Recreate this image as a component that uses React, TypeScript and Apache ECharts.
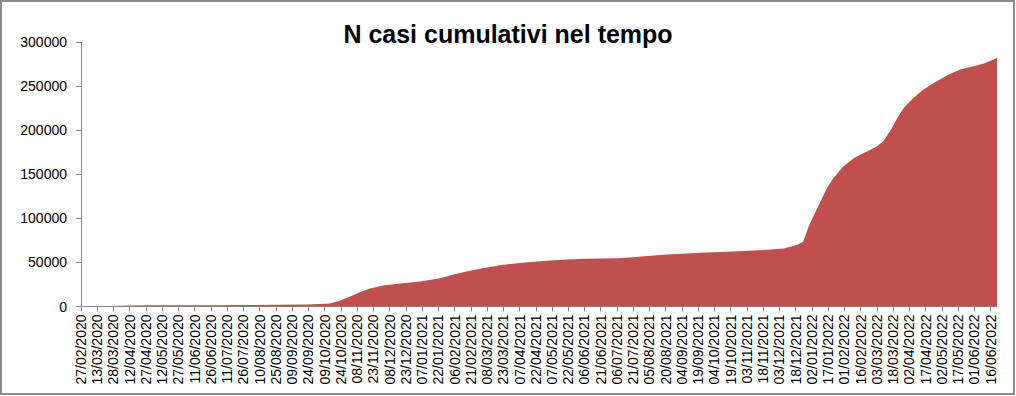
import React, { useEffect, useRef } from "react";
import * as echarts from "echarts";

// Days elapsed since 27/02/2020 (first category of the chart)
const dayOffsets = [
  0, 15, 30, 45, 60, 90, 120, 150, 180, 210, 225, 230, 239, 248, 258, 267, 279,
  295, 313, 332, 344, 357, 371, 387, 403, 418, 433, 449, 464, 480, 495, 510,
  526, 541, 572, 602, 634, 649, 655, 661, 667, 672, 677, 683, 689, 695, 704,
  714, 723, 735, 741, 748, 754, 760, 769, 778, 788, 800, 812, 825, 834, 845,
  846,
];

// Cumulative number of cases
const cumulativeCases = [
  0, 100, 700, 1200, 1400, 1500, 1550, 1650, 1900, 2300, 3000, 3500, 6500,
  11000, 16500, 20500, 23800, 26000, 28400, 32000, 36200, 40000, 43400, 46800,
  49100, 50700, 52200, 53300, 54100, 54500, 54800, 56000, 57600, 59100, 61000,
  62500, 64400, 65900, 67800, 69800, 73500, 90600, 103900, 119000, 134300,
  145700, 158900, 168400, 174100, 181600, 187300, 200600, 213900, 225300,
  236700, 246100, 253800, 262400, 268900, 272700, 275700, 281400, 282300,
];

// Category labels shown every 15 days
const tickLabels = [
  "27/02/2020", "13/03/2020", "28/03/2020", "12/04/2020", "27/04/2020",
  "12/05/2020", "27/05/2020", "11/06/2020", "26/06/2020", "11/07/2020",
  "26/07/2020", "10/08/2020", "25/08/2020", "09/09/2020", "24/09/2020",
  "09/10/2020", "24/10/2020", "08/11/2020", "23/11/2020", "08/12/2020",
  "23/12/2020", "07/01/2021", "22/01/2021", "06/02/2021", "21/02/2021",
  "08/03/2021", "23/03/2021", "07/04/2021", "22/04/2021", "07/05/2021",
  "22/05/2021", "06/06/2021", "21/06/2021", "06/07/2021", "21/07/2021",
  "05/08/2021", "20/08/2021", "04/09/2021", "19/09/2021", "04/10/2021",
  "19/10/2021", "03/11/2021", "18/11/2021", "03/12/2021", "18/12/2021",
  "02/01/2022", "17/01/2022", "01/02/2022", "16/02/2022", "03/03/2022",
  "18/03/2022", "02/04/2022", "17/04/2022", "02/05/2022", "17/05/2022",
  "01/06/2022", "16/06/2022",
];

const lastDay = 846;
const labelStep = 15;

export default function App() {
  const ref = useRef<HTMLDivElement>(null);

  useEffect(() => {
    document.body.style.margin = "0";
    if (!ref.current) return;
    const chart = echarts.init(ref.current, undefined, { renderer: "svg" });
    const tickValues = tickLabels.map((_, i) => i * labelStep);
    const font = "'Liberation Sans', Arial, sans-serif";
    const axisGray = "#8a8a8a";

    chart.setOption({
      animation: false,
      backgroundColor: "#ffffff",
      title: {
        text: "N casi cumulativi nel tempo",
        left: "center",
        top: 16,
        textStyle: {
          fontFamily: font,
          fontSize: 25,
          fontWeight: "bold",
          color: "#000000",
        },
      },
      graphic: [
        {
          type: "rect",
          shape: { x: 1, y: 1, width: 1013, height: 393 },
          style: { fill: "none", stroke: "#8c8c8c", lineWidth: 2 },
          silent: true,
        },
      ],
      grid: { left: 81, right: 19, top: 42, bottom: 89.5 },
      xAxis: {
        type: "value",
        min: 0,
        max: lastDay,
        interval: labelStep,
        splitLine: { show: false },
        axisLine: { show: true, lineStyle: { color: axisGray, width: 1 } },
        axisTick: {
          show: true,
          length: 5,
          lineStyle: { color: axisGray },
          customValues: tickValues,
        },
        axisLabel: {
          rotate: 90,
          margin: 8,
          fontFamily: font,
          fontSize: 14,
          color: "#000000",
          customValues: tickValues,
          formatter: (v: number) =>
            v % labelStep === 0 ? tickLabels[v / labelStep] ?? "" : "",
        },
      },
      yAxis: {
        type: "value",
        min: 0,
        max: 300000,
        interval: 50000,
        splitLine: { show: false },
        axisLine: { show: true, lineStyle: { color: axisGray, width: 1 } },
        axisTick: { show: true, length: 5, lineStyle: { color: axisGray } },
        axisLabel: {
          margin: 14,
          fontFamily: font,
          fontSize: 14,
          color: "#000000",
          formatter: (v: number) => String(v),
        },
      },
      series: [
        {
          type: "line",
          data: dayOffsets.map((d, i) => [d, cumulativeCases[i]]),
          showSymbol: false,
          lineStyle: { width: 0, color: "#C0504D" },
          itemStyle: { color: "#C0504D" },
          areaStyle: { color: "#C0504D", opacity: 1 },
        },
      ],
    });

    return () => chart.dispose();
  }, []);

  return <div ref={ref} style={{ width: 1016, height: 396 }} />;
}
